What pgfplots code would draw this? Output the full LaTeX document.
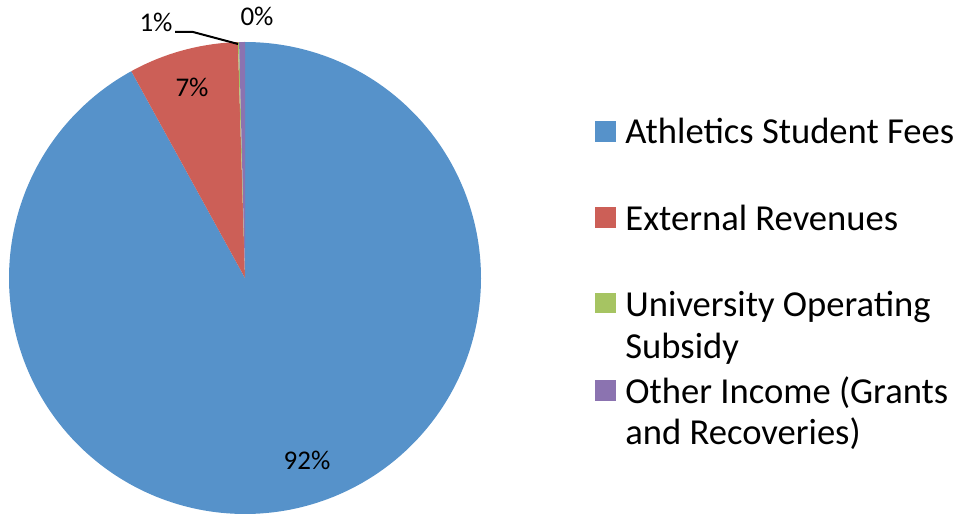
\documentclass[border=0pt]{standalone}
\usepackage{fontspec}
\setmainfont{Carlito}
\usepackage{pgfplots}
\usepackage{pgfplotstable}
\pgfplotsset{compat=1.18}
\definecolor{sfees}{RGB}{86,146,202}
\definecolor{extrev}{RGB}{204,95,87}
\definecolor{subsidy}{RGB}{166,196,98}
\definecolor{other}{RGB}{139,115,176}

% share of each source, percent (clockwise from 12 o'clock)
\pgfplotstableread{
source value
AthleticsStudentFees 92.00
ExternalRevenues 7.52
UniversitySubsidy 0.08
OtherIncome 0.40
}\piedata
\pgfplotstablegetelem{0}{value}\of\piedata\pgfmathsetmacro\va{\pgfplotsretval}
\pgfplotstablegetelem{1}{value}\of\piedata\pgfmathsetmacro\vb{\pgfplotsretval}
\pgfplotstablegetelem{2}{value}\of\piedata\pgfmathsetmacro\vc{\pgfplotsretval}
\pgfplotstablegetelem{3}{value}\of\piedata\pgfmathsetmacro\vd{\pgfplotsretval}
\pgfmathsetmacro\aA{90-3.6*\va}
\pgfmathsetmacro\aB{\aA-3.6*\vb}
\pgfmathsetmacro\aC{\aB-3.6*\vc}
\pgfmathsetmacro\aD{\aC-3.6*\vd}

\begin{document}
\begin{tikzpicture}
\begin{axis}[
    width=481pt, height=257pt, scale only axis,
    xmin=0, xmax=962, ymin=0, ymax=514,
    hide axis, clip=false,
]
% pie slices, centre (245,236), radius 236
\addplot[fill=sfees, draw=none, domain=\aA:90, samples=240]
    ({245+236*cos(x)},{236+236*sin(x)}) -- (axis cs:245,236) -- cycle;
\addplot[fill=extrev, draw=none, domain=\aB:\aA, samples=40]
    ({245+236*cos(x)},{236+236*sin(x)}) -- (axis cs:245,236) -- cycle;
\addplot[fill=subsidy, draw=none, domain=\aC:\aB, samples=10]
    ({245+236*cos(x)},{236+236*sin(x)}) -- (axis cs:245,236) -- cycle;
\addplot[fill=other, draw=none, domain=\aD:\aC, samples=10]
    ({245+236*cos(x)},{236+236*sin(x)}) -- (axis cs:245,236) -- cycle;

% data labels
\begin{scope}[every node/.style={font=\fontsize{13.5pt}{16pt}\selectfont}]
\node at (axis cs:307,54) {92\%};
\node at (axis cs:192,427) {7\%};
\node at (axis cs:156,492) {1\%};
\node at (axis cs:257,498) {0\%};
\end{scope}
\draw[line width=1pt] (axis cs:175,482) -- (axis cs:193,482) -- (axis cs:238,470);

% legend
\fill[sfees] (axis cs:595,393) rectangle (axis cs:616,372);
\fill[extrev] (axis cs:595,307) rectangle (axis cs:616,286);
\fill[subsidy] (axis cs:595,221) rectangle (axis cs:616,201);
\fill[other] (axis cs:595,134) rectangle (axis cs:616,113);
\begin{scope}[every node/.style={anchor=base west, inner sep=0pt,
    font=\fontsize{18.3pt}{21pt}\selectfont}]
\node at (axis cs:625,370) {Athletics Student Fees};
\node at (axis cs:625,283) {External Revenues};
\node at (axis cs:625,197) {University Operating};
\node at (axis cs:625,155) {Subsidy};
\node at (axis cs:625,111) {Other Income (Grants};
\node at (axis cs:625,69) {and Recoveries)};
\end{scope}
\end{axis}
\pgfresetboundingbox
\path (current axis.south west) rectangle (current axis.north east);
\end{tikzpicture}
\end{document}
